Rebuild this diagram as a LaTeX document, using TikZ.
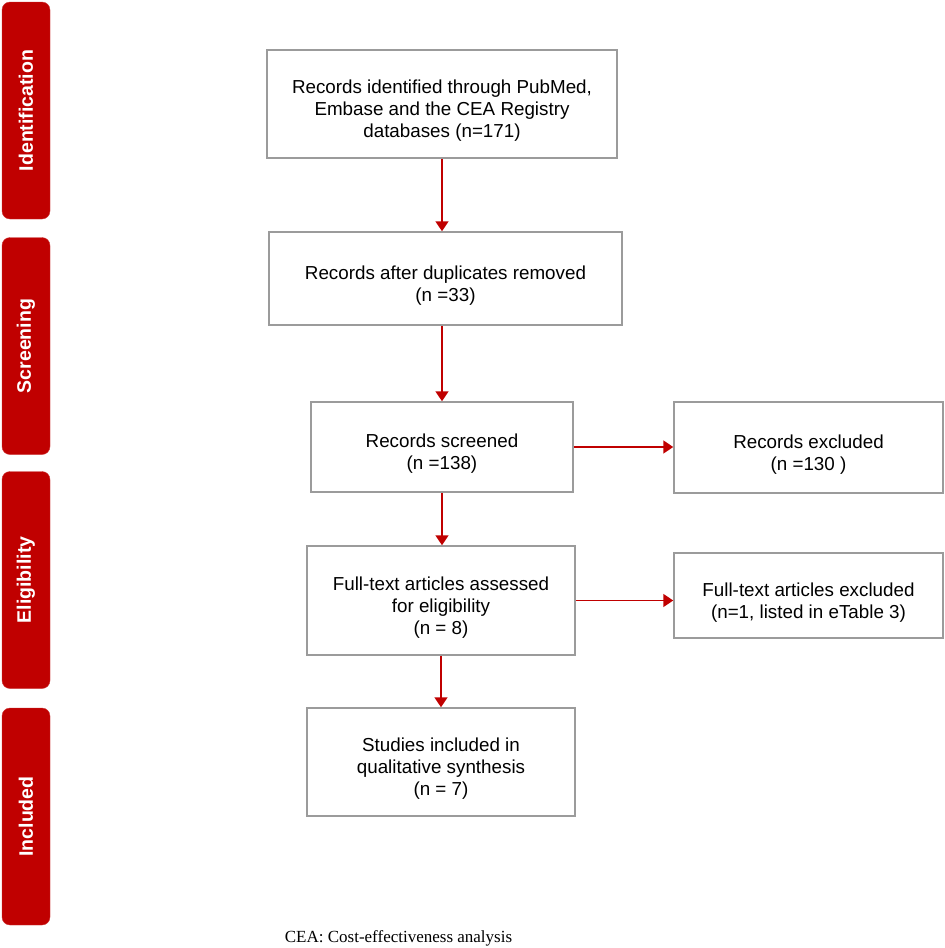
\documentclass[tikz,border=0pt]{standalone}
\usepackage{fontspec}
\setmainfont{Liberation Sans}
\newfontfamily\capfont{Liberation Serif}
\usepackage{xcolor}
\usepackage{tikz}
\usetikzlibrary{arrows.meta, positioning}
\definecolor{prismared}{RGB}{192,0,0}
\definecolor{boxgray}{RGB}{155,155,155}
\newcommand{\topgap}{\rule{0pt}{27pt}}

\begin{document}
\begin{tikzpicture}[x=1pt,y=-1pt,>={Triangle[length=10pt,width=13pt]},
        phase/.style={fill=prismared,draw=prismared!80!white,rounded corners=8pt,rotate=90,
            minimum width=217pt,minimum height=48pt,inner sep=0pt,text=white,
            font=\bfseries\fontsize{19.5}{22}\selectfont},
        rec/.style={draw=boxgray,line width=1.5pt,align=center,inner sep=0pt,
            font=\fontsize{18.8}{22}\selectfont},
        flow/.style={->,draw=prismared,line width=1.8pt}]
        \useasboundingbox (0,0) rectangle (945,948);
        % phases on the left
        \node[phase](p_id) at (26,110.5){Identification};
        \node[phase](p_scr) at (26,346){Screening};
        \node[phase](p_elig) at (26,580){Eligibility};
        \node[phase](p_incl) at (26,816.5){Included};
        % record boxes
        \node[rec,minimum width=350pt,minimum height=108pt](ident) at (442,104)
            {\topgap Records identified through PubMed,\\Embase and the CEA Registry\\databases (n=171)};
        \node[rec,minimum width=353pt,minimum height=93pt](dupl) at (445.5,278.5)
            {\topgap Records after duplicates removed\\(n =33)};
        \node[rec,minimum width=262pt,minimum height=90pt](scr) at (442,447)
            {\topgap Records screened\\(n =138)};
        \node[rec,minimum width=269pt,minimum height=91pt](excl) at (808.5,447.5)
            {\topgap Records excluded\\(n =130 )};
        \node[rec,minimum width=268pt,minimum height=109pt](full) at (441,600.5)
            {\topgap Full-text articles assessed\\for eligibility\\(n = 8)};
        \node[rec,minimum width=269pt,minimum height=85pt](fullexcl) at (808.5,595.5)
            {\topgap Full-text articles excluded\\(n=1, listed in eTable 3)};
        \node[rec,minimum width=268pt,minimum height=108pt](incl) at (441,762)
            {\topgap Studies included in\\qualitative synthesis\\(n = 7)};
        % note
        \node[font=\capfont\fontsize{17}{20}\selectfont](note) at (398.5,938)
            {CEA: Cost-effectiveness analysis};
        % arrows
        \draw[flow] (ident.south) -- (ident.south |- dupl.north);
        \draw[flow] (scr.north |- dupl.south) -- (scr.north);
        \draw[flow] (scr.south) -- (scr.south |- full.north);
        \draw[flow] (full.south) -- (incl.north);
        \draw[flow] (scr.east) -- (scr.east -| excl.west);
        \draw[flow] (full.east) -- (full.east -| fullexcl.west);
    \end{tikzpicture}
\end{document}
